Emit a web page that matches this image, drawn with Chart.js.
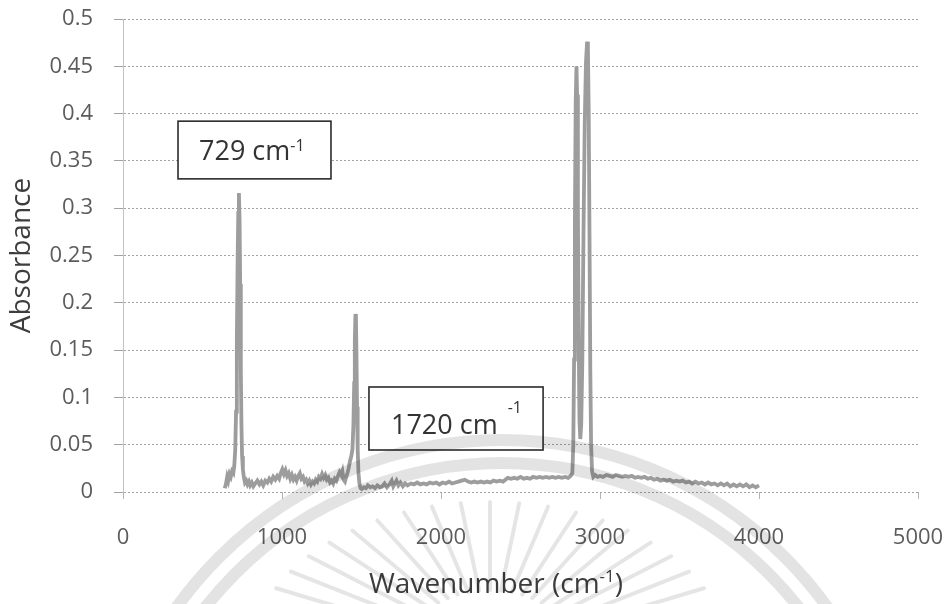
<!DOCTYPE html>
<html>
<head>
<meta charset="utf-8">
<script src="https://cdn.jsdelivr.net/npm/chart.js@4/dist/chart.umd.min.js"></script>
<style>
  html, body { margin: 0; padding: 0; background: #ffffff; }
  #wrap { position: relative; width: 947px; height: 604px; }
</style>
</head>
<body>
<div id="wrap"><canvas id="ftir"></canvas></div>
<script>
// FTIR spectrum: wavenumber (cm-1) and absorbance
const wavenumber = [
  640, 648, 655, 662, 670, 678, 686, 694, 700, 706, 711, 716, 721, 725, 729, 733, 737, 741, 745, 749,
  754, 760, 767, 775, 783, 792, 800, 810, 820, 832, 845, 858, 870, 882, 895, 908, 920, 932, 945, 958,
  970, 982, 992, 1002, 1012, 1022, 1032, 1042, 1052, 1062, 1072, 1082, 1092, 1102, 1112, 1122, 1132, 1142, 1152, 1162,
  1172, 1182, 1192, 1202, 1212, 1222, 1232, 1242, 1252, 1262, 1272, 1282, 1292, 1302, 1312, 1322, 1332, 1342, 1352, 1362,
  1372, 1380, 1388, 1396, 1404, 1412, 1420, 1428, 1436, 1443, 1449, 1454, 1458, 1462, 1465, 1468, 1472, 1476, 1481, 1487,
  1494, 1502, 1515, 1528, 1540, 1555, 1570, 1585, 1600, 1615, 1630, 1645, 1660, 1675, 1690, 1700, 1710, 1720, 1732, 1745,
  1760, 1775, 1790, 1810, 1830, 1850, 1870, 1890, 1910, 1930, 1950, 1970, 1990, 2010, 2030, 2050, 2070, 2090, 2110, 2130,
  2150, 2170, 2190, 2210, 2230, 2250, 2270, 2290, 2310, 2330, 2350, 2370, 2390, 2405, 2420, 2440, 2460, 2480, 2500, 2520,
  2540, 2560, 2580, 2600, 2620, 2640, 2660, 2680, 2700, 2720, 2740, 2760, 2780, 2800, 2815, 2826, 2832, 2837, 2842, 2847,
  2852, 2856, 2861, 2866, 2871, 2876, 2882, 2889, 2896, 2904, 2912, 2919, 2924, 2929, 2934, 2939, 2944, 2950, 2958, 2970,
  2985, 3000, 3020, 3040, 3060, 3080, 3100, 3120, 3140, 3160, 3180, 3200, 3220, 3240, 3260, 3280, 3300, 3320, 3340, 3360,
  3380, 3400, 3420, 3440, 3460, 3480, 3500, 3520, 3540, 3560, 3580, 3600, 3620, 3640, 3660, 3680, 3700, 3720, 3740, 3760,
  3780, 3800, 3820, 3840, 3860, 3880, 3900, 3920, 3940, 3960, 3980, 4000
];
const absorbance = [
  0.004, 0.009, 0.016, 0.012, 0.019, 0.016, 0.022, 0.020, 0.028, 0.045, 0.085, 0.160, 0.245, 0.295, 0.316, 0.290, 0.220, 0.130, 0.070, 0.038,
  0.024, 0.016, 0.010, 0.012, 0.008, 0.011, 0.007, 0.010, 0.006, 0.009, 0.012, 0.008, 0.011, 0.007, 0.012, 0.010, 0.014, 0.011, 0.016, 0.013,
  0.017, 0.014, 0.020, 0.024, 0.019, 0.023, 0.017, 0.020, 0.014, 0.018, 0.013, 0.016, 0.012, 0.017, 0.020, 0.014, 0.016, 0.011, 0.013, 0.009,
  0.012, 0.008, 0.011, 0.009, 0.013, 0.011, 0.016, 0.014, 0.019, 0.015, 0.018, 0.013, 0.015, 0.010, 0.012, 0.009, 0.014, 0.012, 0.017, 0.021,
  0.018, 0.022, 0.013, 0.011, 0.016, 0.020, 0.026, 0.033, 0.038, 0.045, 0.070, 0.115, 0.160, 0.188, 0.185, 0.150, 0.090, 0.045, 0.020, 0.009,
  0.004, 0.003, 0.005, 0.004, 0.007, 0.005, 0.006, 0.004, 0.007, 0.005, 0.006, 0.009, 0.005, 0.008, 0.012, 0.006, 0.009, 0.012, 0.007, 0.010,
  0.006, 0.009, 0.007, 0.009, 0.008, 0.010, 0.008, 0.009, 0.008, 0.010, 0.009, 0.010, 0.008, 0.010, 0.009, 0.011, 0.009, 0.010, 0.011, 0.012,
  0.013, 0.011, 0.010, 0.011, 0.010, 0.011, 0.010, 0.011, 0.010, 0.012, 0.011, 0.012, 0.011, 0.013, 0.015, 0.014, 0.015, 0.014, 0.016, 0.014,
  0.015, 0.014, 0.016, 0.015, 0.016, 0.015, 0.016, 0.015, 0.016, 0.015, 0.016, 0.015, 0.016, 0.015, 0.017, 0.020, 0.050, 0.140, 0.280, 0.410,
  0.450, 0.420, 0.300, 0.160, 0.075, 0.056, 0.072, 0.140, 0.270, 0.390, 0.455, 0.476, 0.470, 0.400, 0.270, 0.130, 0.050, 0.022, 0.016, 0.018,
  0.016, 0.017, 0.016, 0.018, 0.017, 0.016, 0.018, 0.017, 0.016, 0.017, 0.016, 0.017, 0.015, 0.016, 0.015, 0.016, 0.014, 0.015, 0.013, 0.014,
  0.012, 0.013, 0.012, 0.013, 0.011, 0.012, 0.011, 0.012, 0.010, 0.011, 0.009, 0.011, 0.009, 0.010, 0.008, 0.010, 0.008, 0.009, 0.007, 0.009,
  0.007, 0.009, 0.006, 0.008, 0.006, 0.008, 0.006, 0.008, 0.005, 0.007, 0.005, 0.007
];

// Axis ticks
const xTickValues = [0, 1000, 2000, 3000, 4000, 5000];
const xTickLabels = ['0', '1000', '2000', '3000', '4000', '5000'];
const yTickValues = [0, 0.05, 0.1, 0.15, 0.2, 0.25, 0.3, 0.35, 0.4, 0.45, 0.5];
const yTickLabels = ['0', '0.05', '0.1', '0.15', '0.2', '0.25', '0.3', '0.35', '0.4', '0.45', '0.5'];

// Titles and peak call-outs (text + superscript)
const xTitle = ['Wavenumber (cm', '-1', ')'];
const yTitle = 'Absorbance';
const calloutText = ['729 cm', '1720 cm'];
const calloutSup = ['-1', '-1'];

// Call-out box corners in data units: [x0, x1, yTop, yBottom]
const calloutBoxes = [
  [346, 1308, 0.392, 0.331],
  [1547, 2642, 0.111, 0.0444]
];
// Call-out text styling: left inset, baseline offset from box centre, superscript gap and rise
const calloutStyle = [
  { inset: 21, base: 10, gap: 0, rise: 9 },
  { inset: 22, base: 16, gap: 10, rise: 21 }
];

const FONT = '"Open Sans", "Liberation Sans", sans-serif';

const points = wavenumber.map((w, i) => ({ x: w, y: absorbance[i] }));

function drawSupText(ctx, x, y, parts, size, supSize, gap, rise, align) {
  ctx.font = size + 'px ' + FONT;
  const w0 = ctx.measureText(parts[0]).width;
  const w2 = parts[2] ? ctx.measureText(parts[2]).width : 0;
  ctx.font = supSize + 'px ' + FONT;
  const w1 = ctx.measureText(parts[1]).width;
  let sx = x;
  if (align === 'center') sx = x - (w0 + gap + w1 + w2) / 2;
  ctx.textAlign = 'left';
  ctx.textBaseline = 'alphabetic';
  ctx.font = size + 'px ' + FONT;
  ctx.fillText(parts[0], sx, y);
  ctx.font = supSize + 'px ' + FONT;
  ctx.fillText(parts[1], sx + w0 + gap, y - rise);
  if (parts[2]) {
    ctx.font = size + 'px ' + FONT;
    ctx.fillText(parts[2], sx + w0 + gap + w1, y);
  }
}

const decorations = {
  id: 'decorations',
  afterDraw(chart) {
    const ctx = chart.ctx;
    const xs = chart.scales.x, ys = chart.scales.y;
    const area = chart.chartArea;
    ctx.save();

    // axis titles
    ctx.fillStyle = '#3d3d3d';
    drawSupText(ctx, 496, 593, xTitle, 28, 17, 0, 11, 'center');
    ctx.save();
    ctx.translate(22, (area.top + area.bottom) / 2);
    ctx.rotate(-Math.PI / 2);
    ctx.font = '28px ' + FONT;
    ctx.textAlign = 'center';
    ctx.textBaseline = 'middle';
    ctx.fillText(yTitle, 0, 0);
    ctx.restore();

    // peak call-out boxes
    calloutBoxes.forEach((b, i) => {
      const l = xs.getPixelForValue(b[0]), r = xs.getPixelForValue(b[1]);
      const t = ys.getPixelForValue(b[2]), btm = ys.getPixelForValue(b[3]);
      ctx.fillStyle = '#ffffff';
      ctx.fillRect(l, t, r - l, btm - t);
      ctx.strokeStyle = '#2b2b2b';
      ctx.lineWidth = 1.6;
      ctx.strokeRect(l, t, r - l, btm - t);
      const st = calloutStyle[i];
      ctx.fillStyle = '#333333';
      drawSupText(ctx, l + st.inset, (t + btm) / 2 + st.base,
        [calloutText[i], calloutSup[i]], 27, 16, st.gap, st.rise, 'left');
    });

    // faint emblem watermark over the page: two rings and a fan of rays
    ctx.strokeStyle = 'rgba(0,0,0,0.11)';
    ctx.lineWidth = 12;
    [400, 377].forEach(rad => {
      ctx.beginPath();
      ctx.arc(502, 840, rad, Math.PI, 2 * Math.PI);
      ctx.stroke();
    });
    ctx.lineCap = 'round';
    ctx.strokeStyle = 'rgba(0,0,0,0.1)';
    ctx.lineWidth = 4;
    for (let a = 193; a <= 347; a += 7) {
      const rad = a * Math.PI / 180;
      const c = Math.cos(rad), s = Math.sin(rad);
      ctx.beginPath();
      ctx.moveTo(490 + c * 90, 660 + s * 70);
      ctx.lineTo(490 + c * 240, 660 + s * 158);
      ctx.stroke();
    }
    ctx.restore();
  }
};

new Chart(document.getElementById('ftir'), {
  type: 'scatter',
  data: {
    datasets: [{
      data: points,
      showLine: true,
      borderColor: '#9d9d9d',
      borderWidth: 3.8,
      pointRadius: 0,
      tension: 0,
      fill: false
    }]
  },
  options: {
    responsive: true,
    maintainAspectRatio: false,
    animation: false,
    layout: { padding: { left: 0, right: 29, top: 19, bottom: 0 } },
    plugins: { legend: { display: false }, tooltip: { enabled: false } },
    scales: {
      x: {
        type: 'linear',
        min: 0,
        max: 5000,
        afterBuildTicks: s => { s.ticks = xTickValues.map(v => ({ value: v })); },
        afterFit: s => { s.height = 112; s.paddingLeft = 0; s.paddingRight = 0; },
        ticks: {
          callback: (v, i) => xTickLabels[i],
          font: { family: FONT, size: 22 },
          color: '#5c5c5c',
          padding: 26,
          maxRotation: 0
        },
        grid: { drawOnChartArea: false, drawTicks: true, tickLength: 7, color: '#b3b3b3' },
        border: { display: false }
      },
      y: {
        min: 0,
        max: 0.5,
        afterBuildTicks: s => { s.ticks = yTickValues.map(v => ({ value: v })); },
        afterFit: s => { s.width = 123; s.paddingTop = 0; s.paddingBottom = 0; },
        ticks: {
          callback: (v, i) => yTickLabels[i],
          font: { family: FONT, size: 22 },
          color: '#5c5c5c',
          padding: 21
        },
        grid: { color: '#a3a3a3', lineWidth: 1, drawTicks: true, tickLength: 9, tickColor: '#a3a3a3' },
        border: { display: true, color: '#c4c4c4', width: 1, dash: [2, 2] }
      }
    }
  },
  plugins: [decorations]
});
</script>
</body>
</html>
